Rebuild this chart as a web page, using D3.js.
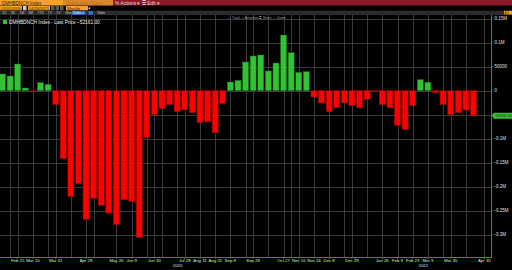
<!DOCTYPE html>
<html>
<head>
<meta charset="utf-8">
<script src="https://cdn.jsdelivr.net/npm/d3@7"></script>
<style>
  html, body { margin: 0; padding: 0; background: #000; }
  svg { display: block; font-family: "Liberation Sans", Arial, sans-serif; }
</style>
</head>
<body>
<svg id="chart" width="512" height="270"></svg>
<script>
// weekly series, one value per Tuesday
var firstWeek = '2020-02-11';
var lastWeek = '2021-04-20';
var values = [
  34800, 30600, 55600, 5600, -1500, 16700, 13300, -29000, -141700, -220000,
  -193700, -268000, -224000, -238800, -254800, -279000, -227000, -230600, -305500, -98000,
  -50000, -36700, -29000, -43700, -39600, -45800, -66700, -64600, -87500, -26400,
  18100, 21600, 59800, 72300, 74400, 41000, 57700, 116000, 79200, 38300,
  39600, -13100, -25600, -43700, -35400, -25600, -31200, -35400, -18000, -2000,
  -29000, -35400, -72200, -80600, -31200, 23000, 17500, -4200, -29000, -50000,
  -45800, -40200, -52161
];
var lastPrice = -52161.00;
var seriesName = 'DMHBDNCH Index - Last Price';

var tickDates = [
  '2020-02-25', '2020-03-10', '2020-03-31', '2020-04-28', '2020-05-26', '2020-06-09',
  '2020-06-30', '2020-07-28', '2020-08-11', '2020-08-25', '2020-09-08', '2020-09-29',
  '2020-10-27', '2020-11-10', '2020-11-24', '2020-12-08', '2020-12-29', '2021-01-26',
  '2021-02-09', '2021-02-23', '2021-03-09', '2021-03-30', '2021-04-30'
];
// extra vertical gridlines (unlabelled ticks)
var gridExtra = [
  '2020-02-18', '2020-03-24', '2020-04-14', '2020-05-05', '2020-06-23', '2020-07-07',
  '2020-07-21', '2020-09-22', '2020-10-13', '2020-11-03', '2020-12-22', '2021-01-12',
  '2021-03-23', '2021-04-13'
];
var yTicks = [150000, 100000, 50000, 0, -50000, -100000, -150000, -200000, -250000, -300000];
var periods = ['1D', '3D', '1M', '6M', 'YTD', '1Y', '5Y', 'Max'];

var parse = d3.timeParse('%Y-%m-%d');
var weeks = d3.timeTuesday.range(parse(firstWeek), d3.timeDay.offset(parse(lastWeek), 1));
var data = weeks.map(function (d, i) { return { date: d, value: values[i] }; });

var svg = d3.select('#chart');
var W = 512, H = 270;
var plot = { left: 0, right: 491.5, top: 15, bottom: 257 };
var DAY = 864e5;

var x = d3.scaleTime()
  .domain([new Date(+weeks[0] - 2.3 * DAY), new Date(+weeks[weeks.length - 1] + 16.6 * DAY)])
  .range([plot.left, plot.right]);
var y = d3.scaleLinear()
  .domain([-346500, 157700])
  .range([plot.bottom, plot.top]);

svg.append('rect').attr('width', W).attr('height', H).attr('fill', '#000');

//-------------------------------
// gridlines
var grid = svg.append('g').attr('class', 'grid').attr('stroke', '#3b3b3b').attr('stroke-width', 1);
tickDates.concat(gridExtra).forEach(function (s) {
  var px = Math.round(x(parse(s))) + 0.5;
  grid.append('line').attr('x1', px).attr('x2', px).attr('y1', plot.top).attr('y2', plot.bottom);
});
yTicks.forEach(function (v) {
  var py = Math.round(y(v)) + 0.5;
  grid.append('line').attr('x1', plot.left).attr('x2', plot.right).attr('y1', py).attr('y2', py);
});

//-------------------------------
// bars
svg.append('clipPath').attr('id', 'plotclip')
  .append('rect').attr('x', plot.left).attr('y', plot.top)
  .attr('width', plot.right - plot.left).attr('height', plot.bottom - plot.top);

svg.append('g').attr('clip-path', 'url(#plotclip)')
  .selectAll('rect')
  .data(data)
  .enter()
  .append('rect')
  .attr('x', function (d) { return x(d.date) - 3; })
  .attr('width', 6)
  .attr('y', function (d) { return y(Math.max(0, d.value)); })
  .attr('height', function (d) { return Math.max(0.8, Math.abs(y(d.value) - y(0))); })
  .attr('fill', function (d) { return d.value >= 0 ? '#33c233' : '#ff0000'; })
  .attr('stroke', function (d) { return d.value >= 0 ? '#1c6e1c' : '#9a0000'; })
  .attr('stroke-width', 0.5);

//-------------------------------
// right axis
var axisGreen = '#22a022';
svg.append('line').attr('x1', plot.right).attr('x2', plot.right)
  .attr('y1', plot.top).attr('y2', plot.bottom + 0.5)
  .attr('stroke', axisGreen).attr('stroke-width', 1);

var fmtY = function (v) {
  if (Math.abs(v) >= 100000) return (v / 1e6) + 'M';
  return String(v);
};
yTicks.forEach(function (v) {
  var py = y(v);
  svg.append('line').attr('x1', plot.right).attr('x2', plot.right + 2)
    .attr('y1', py).attr('y2', py).attr('stroke', axisGreen).attr('stroke-width', 0.8);
  if (v === -50000) return; // covered by last price tag
  svg.append('text').attr('x', plot.right + 3).attr('y', py + 1.6)
    .attr('font-size', 4.5).attr('fill', '#e0e0e0').text(fmtY(v));
});

// last price tag
var lp = y(lastPrice);
svg.append('path')
  .attr('d', 'M' + (plot.right + 0.5) + ',' + lp + ' L' + (plot.right + 2.2) + ',' + (lp - 3) +
    ' L' + W + ',' + (lp - 3) + ' L' + W + ',' + (lp + 3) + ' L' + (plot.right + 2.2) + ',' + (lp + 3) + ' Z')
  .attr('fill', '#3cbd3c');
svg.append('text').attr('x', plot.right + 2.4).attr('y', lp + 1.4)
  .attr('font-size', 3.9).attr('fill', '#0a2a0a').text(d3.format('.2f')(lastPrice));

//-------------------------------
// bottom axis
svg.append('line').attr('x1', plot.left).attr('x2', plot.right)
  .attr('y1', plot.bottom + 0.5).attr('y2', plot.bottom + 0.5)
  .attr('stroke', axisGreen).attr('stroke-width', 1);

var fmtX = d3.timeFormat('%b %-d');
tickDates.forEach(function (s) {
  var px = x(parse(s));
  svg.append('line').attr('x1', px).attr('x2', px)
    .attr('y1', plot.bottom + 0.5).attr('y2', plot.bottom + 2).attr('stroke', axisGreen).attr('stroke-width', 0.8);
  svg.append('text').attr('x', px).attr('y', 262.3).attr('text-anchor', 'middle')
    .attr('font-size', 4.3).attr('fill', '#e0e0e0').text(fmtX(parse(s)));
});
svg.append('text').attr('x', 2).attr('y', 262).attr('text-anchor', 'middle')
  .attr('font-size', 4.3).attr('fill', '#bbb').text('...');
svg.append('text').attr('x', 473).attr('y', 262).attr('text-anchor', 'middle')
  .attr('font-size', 4.3).attr('fill', '#bbb').text('...');

// year labels centred on the visible part of each year
var yearBreak = x(parse('2021-01-01'));
svg.append('line').attr('x1', yearBreak).attr('x2', yearBreak)
  .attr('y1', plot.bottom + 0.5).attr('y2', plot.bottom + 4).attr('stroke', axisGreen).attr('stroke-width', 0.8);
[['2020', plot.left, yearBreak], ['2021', yearBreak, plot.right]].forEach(function (yr) {
  svg.append('text').attr('x', (yr[1] + yr[2]) / 2).attr('y', 267.3).attr('text-anchor', 'middle')
    .attr('font-size', 4.3).attr('fill', '#e0e0e0').text(yr[0]);
});

//-------------------------------
// legend + tools
svg.append('rect').attr('x', 3).attr('y', 20).attr('width', 4).attr('height', 4).attr('fill', '#33c233');
svg.append('text').attr('x', 9).attr('y', 23.7).attr('font-size', 4.8).attr('fill', '#f0f0f0')
  .text(seriesName + ' ' + d3.format('.2f')(lastPrice));

[['\u2713 Track', 228], ['\u270E Annotate', 241], ['\u2263 News', 259], ['\u2315 Zoom', 274]].forEach(function (t) {
  svg.append('text').attr('x', t[1]).attr('y', 18.8).attr('font-size', 3.4).attr('fill', '#9a9a9a').text(t[0]);
});

//-------------------------------
// Bloomberg-style header
svg.append('rect').attr('x', 0).attr('y', 0).attr('width', W).attr('height', 5.7).attr('fill', '#8c1a27');
svg.append('rect').attr('x', 0).attr('y', 0).attr('width', 63).attr('height', 5.7).attr('fill', '#f5a226');
svg.append('rect').attr('x', 63).attr('y', 0).attr('width', 50).attr('height', 5.7).attr('fill', '#d9892a');
svg.append('text').attr('x', 2).attr('y', 4.6).attr('font-size', 4.6).attr('fill', '#3a2000').text('DMHBDNCH Index');
svg.append('text').attr('x', 66).attr('y', 4.6).attr('font-size', 4.6).attr('fill', '#b86d22').text('Suggested Charts');
svg.append('text').attr('x', 115).attr('y', 4.7).attr('font-size', 4.8).attr('fill', '#f3d6d6').text('% Actions \u25BE');
svg.append('text').attr('x', 142).attr('y', 4.7).attr('font-size', 4.8).attr('fill', '#f3d6d6').text('\u2263 Edit \u25BE');

svg.append('rect').attr('x', 0).attr('y', 5.7).attr('width', W).attr('height', 5).attr('fill', '#000');
[[0, 22, '01/01/2020'], [28, 22, '04/26/2021'], [66, 22, 'Weekly']].forEach(function (b) {
  svg.append('rect').attr('x', b[0]).attr('y', 6).attr('width', b[1]).attr('height', 4.4).attr('fill', '#f5a226');
  svg.append('text').attr('x', b[0] + 1).attr('y', 9.7).attr('font-size', 4).attr('fill', '#3a2000').text(b[2]);
});
svg.append('rect').attr('x', 23).attr('y', 6).attr('width', 3.5).attr('height', 4.4).attr('fill', '#d0d0d0');
svg.append('rect').attr('x', 51).attr('y', 6).attr('width', 3.5).attr('height', 4.4).attr('fill', '#5a5a5a');
svg.append('rect').attr('x', 55.5).attr('y', 6).attr('width', 3.5).attr('height', 4.4).attr('fill', '#5a5a5a');
svg.append('rect').attr('x', 60).attr('y', 6).attr('width', 3.5).attr('height', 4.4).attr('fill', '#5a5a5a');
svg.append('circle').attr('cx', 89.5).attr('cy', 8.2).attr('r', 0.9).attr('fill', '#ddd');

svg.append('rect').attr('x', 0).attr('y', 10.7).attr('width', W).attr('height', 4.3).attr('fill', '#2b2b2b');
var px0 = 2;
periods.forEach(function (p) {
  svg.append('text').attr('x', px0).attr('y', 14).attr('font-size', 3.4).attr('fill', '#c8c8c8').text(p);
  px0 += p.length * 1.8 + 5.2;
});
svg.append('rect').attr('x', 72).attr('y', 11).attr('width', 13.5).attr('height', 3.8).attr('fill', '#2f6fd0');
svg.append('text').attr('x', 73).attr('y', 14).attr('font-size', 3.4).attr('fill', '#fff').text('Delta \u25BE');
svg.append('rect').attr('x', 88.5).attr('y', 11).attr('width', 4.5).attr('height', 3.8).attr('fill', '#2f6fd0');
svg.append('text').attr('x', 97).attr('y', 14).attr('font-size', 3.4).attr('fill', '#c8c8c8').text('Table');
svg.append('rect').attr('x', 504).attr('y', 10.8).attr('width', 8).attr('height', 3.6).attr('fill', '#f5a226');
svg.append('text').attr('x', 504.6).attr('y', 13.9).attr('font-size', 3.2).attr('fill', '#3a2000').text('AX');
</script>
</body>
</html>
